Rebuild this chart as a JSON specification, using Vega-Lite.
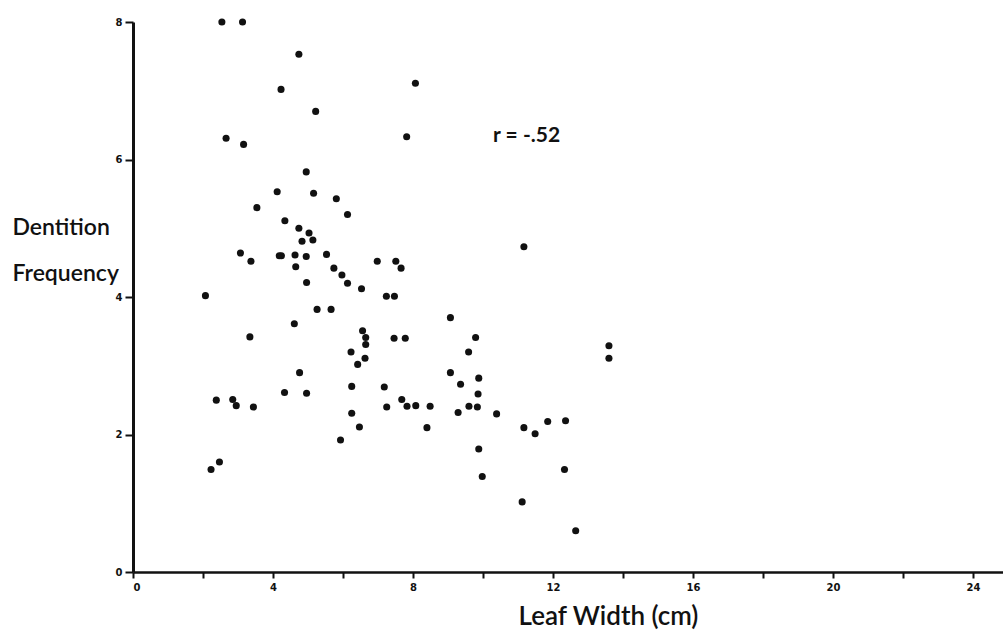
{
  "$schema": "https://vega.github.io/schema/vega-lite/v6.json",
  "width": 870,
  "height": 550,
  "autosize": "none",
  "padding": {"left": 133, "top": 22, "right": 0, "bottom": 64},
  "background": "white",
  "config": {"view": {"stroke": null}},
  "datasets": {
    "pts": [
      {"w": 2.54, "f": 8.0}, {"w": 3.13, "f": 8.0}, {"w": 4.74, "f": 7.53}, {"w": 4.23, "f": 7.02},
      {"w": 8.07, "f": 7.11}, {"w": 5.22, "f": 6.70}, {"w": 2.66, "f": 6.31}, {"w": 3.16, "f": 6.22},
      {"w": 7.82, "f": 6.33}, {"w": 4.95, "f": 5.82}, {"w": 4.12, "f": 5.53}, {"w": 5.16, "f": 5.51},
      {"w": 5.81, "f": 5.43}, {"w": 3.54, "f": 5.30}, {"w": 6.13, "f": 5.20}, {"w": 4.34, "f": 5.11},
      {"w": 4.74, "f": 5.00}, {"w": 5.03, "f": 4.93}, {"w": 5.14, "f": 4.83}, {"w": 4.83, "f": 4.81},
      {"w": 3.07, "f": 4.64}, {"w": 4.18, "f": 4.60}, {"w": 4.24, "f": 4.60}, {"w": 4.63, "f": 4.61},
      {"w": 4.95, "f": 4.59}, {"w": 5.53, "f": 4.62}, {"w": 3.37, "f": 4.52}, {"w": 4.65, "f": 4.44},
      {"w": 5.74, "f": 4.42}, {"w": 5.97, "f": 4.32}, {"w": 6.13, "f": 4.20}, {"w": 4.96, "f": 4.21},
      {"w": 6.98, "f": 4.52}, {"w": 7.51, "f": 4.52}, {"w": 7.66, "f": 4.42}, {"w": 6.53, "f": 4.12},
      {"w": 7.24, "f": 4.01}, {"w": 7.47, "f": 4.01}, {"w": 2.07, "f": 4.02}, {"w": 5.26, "f": 3.82},
      {"w": 5.66, "f": 3.82}, {"w": 4.61, "f": 3.61}, {"w": 3.34, "f": 3.42}, {"w": 11.17, "f": 4.73},
      {"w": 9.07, "f": 3.70}, {"w": 6.56, "f": 3.51}, {"w": 6.65, "f": 3.41}, {"w": 6.65, "f": 3.31},
      {"w": 7.46, "f": 3.40}, {"w": 7.78, "f": 3.40}, {"w": 9.79, "f": 3.41}, {"w": 9.59, "f": 3.20},
      {"w": 6.23, "f": 3.20}, {"w": 6.63, "f": 3.11}, {"w": 6.42, "f": 3.02}, {"w": 9.07, "f": 2.90},
      {"w": 9.88, "f": 2.82}, {"w": 4.76, "f": 2.90}, {"w": 13.6, "f": 3.29}, {"w": 13.6, "f": 3.11},
      {"w": 2.38, "f": 2.50}, {"w": 2.85, "f": 2.51}, {"w": 2.95, "f": 2.42}, {"w": 3.44, "f": 2.40},
      {"w": 4.33, "f": 2.61}, {"w": 4.96, "f": 2.60}, {"w": 6.25, "f": 2.70}, {"w": 7.18, "f": 2.69},
      {"w": 9.36, "f": 2.73}, {"w": 9.86, "f": 2.59}, {"w": 7.68, "f": 2.51}, {"w": 7.25, "f": 2.40},
      {"w": 7.83, "f": 2.41}, {"w": 8.08, "f": 2.42}, {"w": 8.49, "f": 2.41}, {"w": 9.29, "f": 2.32},
      {"w": 9.60, "f": 2.41}, {"w": 9.84, "f": 2.40}, {"w": 10.39, "f": 2.30}, {"w": 6.25, "f": 2.31},
      {"w": 6.47, "f": 2.11}, {"w": 5.93, "f": 1.92}, {"w": 8.40, "f": 2.10}, {"w": 11.17, "f": 2.10},
      {"w": 11.49, "f": 2.01}, {"w": 11.85, "f": 2.19}, {"w": 12.36, "f": 2.20}, {"w": 2.47, "f": 1.60},
      {"w": 2.23, "f": 1.49}, {"w": 9.88, "f": 1.79}, {"w": 9.98, "f": 1.39}, {"w": 12.33, "f": 1.49},
      {"w": 11.12, "f": 1.02}, {"w": 12.65, "f": 0.60}
    ],
    "note": [{"w": 10.29, "f": 6.25, "label": "r = -.52"}]
  },
  "layer": [
    {
      "data": {"name": "pts"},
      "mark": {"type": "circle", "color": "#111111", "opacity": 1, "size": 50},
      "encoding": {
        "x": {
          "field": "w", "type": "quantitative",
          "scale": {"domain": [0, 24.86], "nice": false, "zero": false},
          "axis": {
            "values": [0, 2, 4, 6, 8, 10, 12, 14, 16, 18, 20, 22, 24],
            "format": "d",
            "labelExpr": "datum.value % 4 == 0 ? datum.label : ''",
            "grid": false,
            "domainColor": "#111111", "domainWidth": 2.5,
            "tickColor": "#111111", "tickWidth": 2, "tickSize": 6,
            "labelFont": "DejaVu Sans", "labelFontWeight": "bold", "labelFontSize": 10,
            "labelColor": "#111111", "labelPadding": 4,
            "title": "Leaf Width (cm)",
            "titleFont": "Lato", "titleFontWeight": 600, "titleFontSize": 26,
            "titleColor": "#111111",
            "titleX": 475, "titleY": 52, "titleBaseline": "alphabetic", "titleAlign": "center"
          }
        },
        "y": {
          "field": "f", "type": "quantitative",
          "scale": {"domain": [0, 8], "nice": false, "zero": false},
          "axis": {
            "values": [0, 2, 4, 6, 8],
            "format": "d",
            "grid": false,
            "domainColor": "#111111", "domainWidth": 3,
            "tickColor": "#111111", "tickWidth": 2, "tickSize": 8,
            "labelFont": "DejaVu Sans", "labelFontWeight": "bold", "labelFontSize": 10,
            "labelColor": "#111111", "labelPadding": 3,
            "title": ["Dentition", "Frequency"],
            "titleFont": "Lato", "titleFontWeight": 600, "titleFontSize": 23,
            "titleColor": "#111111", "titleAngle": 0, "titleAlign": "left",
            "titleBaseline": "alphabetic", "titleLineHeight": 46,
            "titleX": -121, "titleY": 212
          }
        }
      }
    },
    {
      "data": {"name": "note"},
      "mark": {"type": "text", "align": "left", "baseline": "alphabetic", "font": "Lato", "fontWeight": "bold", "fontSize": 21, "color": "#111111"},
      "encoding": {
        "x": {"field": "w", "type": "quantitative"},
        "y": {"field": "f", "type": "quantitative"},
        "text": {"field": "label"}
      }
    }
  ]
}
